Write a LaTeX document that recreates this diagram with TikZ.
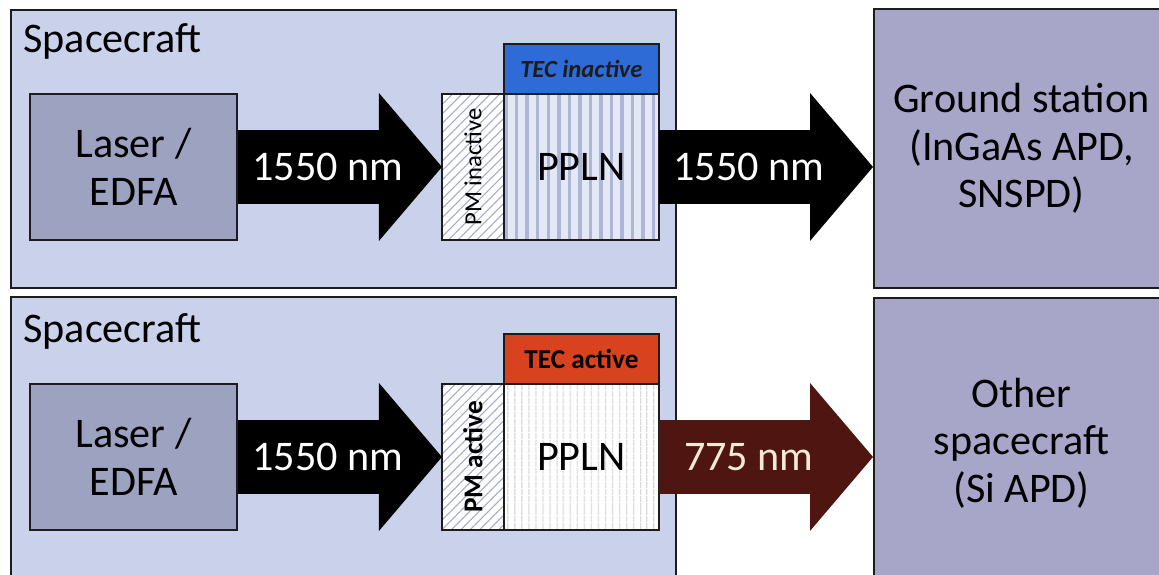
\documentclass[tikz,border=0pt]{standalone}
\usepackage{fontspec}
\setmainfont{Carlito}
\usetikzlibrary{arrows.meta, positioning, calc, patterns.meta}
\definecolor{craftbg}{HTML}{CAD1EB}
\definecolor{laserbg}{HTML}{9DA2C0}
\definecolor{groundbg}{HTML}{A7A6C9}
\definecolor{edgedark}{HTML}{1C1C1C}
\definecolor{tecblue}{HTML}{2F6BD6}
\definecolor{tecred}{HTML}{D9421F}
\definecolor{beamred}{HTML}{4E1511}
\definecolor{hatchgray}{HTML}{A3AACB}
\definecolor{stripeblue}{HTML}{AEB6D8}
\definecolor{crystalbg}{HTML}{E4E8F5}
\definecolor{textcream}{HTML}{F6E9D6}

\begin{document}
\begin{tikzpicture}[
    big/.style={font=\fontsize{24}{27}\selectfont},
    small/.style={font=\fontsize{14}{16}\selectfont},
    frame/.style={draw=edgedark, line width=1.1pt, fill=craftbg, anchor=north west,
                  minimum width=13.3cm, minimum height=5.56cm, inner sep=0},
    far/.style={draw=edgedark, line width=1.1pt, fill=groundbg, anchor=north west,
                minimum width=5.9cm, minimum height=5.58cm, big, align=center},
    source/.style={draw=edgedark, line width=1.1pt, fill=laserbg, anchor=north west,
                   minimum width=4.14cm, minimum height=2.92cm, big, align=center},
    pmbox/.style={draw=edgedark, line width=0.8pt, outer sep=0, inner sep=0,
                  minimum width=1.24cm, minimum height=2.92cm, preaction={fill=white},
                  pattern={Lines[angle=45,distance=3.8pt,line width=0.6pt]}, pattern color=hatchgray},
    crystal/.style={draw=edgedark, line width=0.8pt, outer sep=0, big,
                    minimum width=3.1cm, minimum height=2.92cm},
    tec/.style={draw=edgedark, line width=0.8pt, outer sep=0,
                minimum width=3.1cm, minimum height=1cm},
    beam/.style={line width=1.48cm, -{Triangle[length=1.26cm,width=2.96cm,line width=0pt]}},
    lab/.style={big, text=white},
    title/.style={big, anchor=base west, inner sep=0}
]
\useasboundingbox (0,0) rectangle (23.18,-11.5);

% frames
\node[frame] (sc1) at (0.2,-0.18) {};
\node[frame, minimum height=5.8cm] (sc2) at (0.2,-5.92) {};
\node[title] (name1) at (0.46,-1.06) {Spacecraft};
\node[title] (name2) at (0.46,-6.86) {Spacecraft};

\node[far] (gs) at (17.46,-0.16) {Ground station\\(InGaAs APD,\\SNSPD)};
\node[far, minimum height=5.8cm] (os) at (17.46,-5.94) {Other\\spacecraft\\(Si APD)};

% top: PM and TEC off
\node[source] (laser1) at (0.58,-1.86) {Laser /\\EDFA};
\node[pmbox, right=4.08cm of laser1] (pm1) {};
\node[small, rotate=90] at (pm1) {PM inactive};
\node[crystal, right=0pt of pm1, preaction={fill=crystalbg},
      pattern={Lines[angle=90,distance=6pt,line width=2pt]}, pattern color=stripeblue] (ppln1) {};
\node[big] at (ppln1) {PPLN};
\node[tec, above=0pt of ppln1, fill=tecblue, small, text=edgedark] (tec1) {\bfseries\itshape TEC inactive};

% bottom: PM and TEC on
\node[source] (laser2) at (0.58,-7.66) {Laser /\\EDFA};
\node[pmbox, right=4.08cm of laser2] (pm2) {};
\node[font=\fontsize{15.5}{17}\selectfont\bfseries, rotate=90] at (pm2) {PM active};
\node[crystal, right=0pt of pm2, preaction={fill=white},
      pattern={Lines[angle=90,distance=4pt,line width=0.4pt]}, pattern color=black!45] (ppln2) {};
\node[big] at (ppln2) {PPLN};
\node[tec, above=0pt of ppln2, fill=tecred, font=\fontsize{15.5}{17}\selectfont\bfseries] (tec2) {TEC active};

% beams
\draw[beam, draw=black] (laser1.east) -- node[lab, pos=0.44]{1550 nm} (pm1.west);
\draw[beam, draw=black] (ppln1.east) -- node[lab, pos=0.42]{1550 nm} (ppln1.east -| gs.west);
\draw[beam, draw=black] (laser2.east) -- node[lab, pos=0.44]{1550 nm} (pm2.west);
\draw[beam, draw=beamred] (ppln2.east) -- node[lab, pos=0.42, text=textcream]{775 nm} (ppln2.east -| os.west);

\end{tikzpicture}
\end{document}
